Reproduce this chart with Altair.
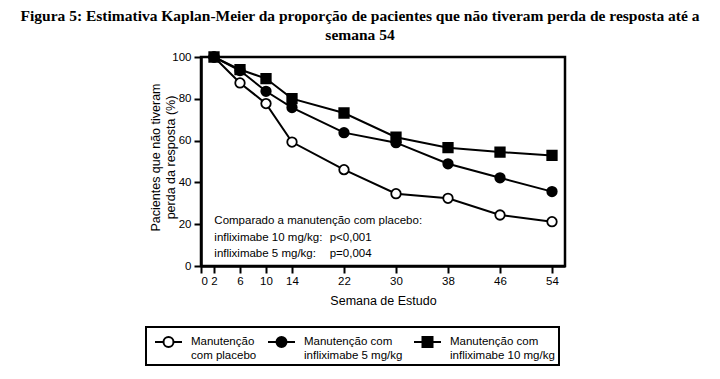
import altair as alt
import pandas as pd

# ---- data ----
semanas = [2, 6, 10, 14, 22, 30, 38, 46, 54]
placebo = [100, 87.6, 77.7, 59.3, 46.1, 34.6, 32.4, 24.4, 21.2]
inflix5 = [100, 93.5, 83.6, 75.8, 63.8, 59.0, 48.9, 42.2, 35.6]
inflix10 = [100, 94.0, 89.7, 80.1, 73.2, 61.6, 56.6, 54.5, 52.9]

grupos = [
    "Manutenção|com placebo",
    "Manutenção com|infliximabe 5 mg/kg",
    "Manutenção com|infliximabe 10 mg/kg",
]
x_ticks = [0, 2, 6, 10, 14, 22, 30, 38, 46, 54]
y_ticks = [0, 20, 40, 60, 80, 100]

annot_labels = ["Comparado a manutenção com placebo:", "infliximabe 10 mg/kg:", "infliximabe 5 mg/kg:"]
annot_p = ["", "p<0,001", "p=0,004"]
annot_y = [21.6, 13.4, 5.8]
annot_x = 2.05
annot_xp = 19.8

titulo = ["Figura 5: Estimativa Kaplan-Meier da proporção de pacientes que não tiveram perda de resposta até a",
          "semana 54"]

FONT = "'Liberation Sans', Arial, sans-serif"

rows = []
for g, vals in zip(grupos, [placebo, inflix5, inflix10]):
    for s, v in zip(semanas, vals):
        rows.append({"semana": s, "pct": v, "grupo": g})
df = pd.DataFrame(rows)

ann = pd.DataFrame({"lab": annot_labels, "p": annot_p, "y": annot_y,
                    "x": [annot_x] * 3, "xp": [annot_xp] * 3})

x_enc = alt.X("semana:Q", scale=alt.Scale(domain=[0, 56], nice=False),
              axis=alt.Axis(values=x_ticks, title="Semana de Estudo", titlePadding=8,
                            labelPadding=2))
y_enc = alt.Y("pct:Q", scale=alt.Scale(domain=[0, 100], nice=False),
              axis=alt.Axis(values=y_ticks, title=["Pacientes que não tiveram", "perda da resposta (%)"],
                            titleX=-46, titleY=100, titleAlign="center", titleBaseline="middle",
                            titleAngle=270, titleLineHeight=15, labelPadding=3))

base = alt.Chart(df)

lines = base.mark_line(color="black", strokeWidth=2).encode(x=x_enc, y=y_enc, detail="grupo:N")

points = base.mark_point(filled=True, stroke="black", strokeWidth=1.8, size=90, opacity=1).encode(
    x=x_enc, y=y_enc,
    shape=alt.Shape("grupo:N", scale=alt.Scale(domain=grupos, range=["circle", "circle", "square"]), legend=None),
    fill=alt.Fill("grupo:N", scale=alt.Scale(domain=grupos, range=["white", "black", "black"]), legend=None),
)

# legend symbols: a short line with the marker in its middle
e = 1.35
r = 0.5
circ = f"M-{e},0L-{r},0M{r},0L{e},0M{r},0A{r},{r},0,1,1,-{r},0A{r},{r},0,1,1,{r},0Z"
sq = f"M-{e},0L-{r},0M{r},0L{e},0M-{r},-{r}L{r},-{r}L{r},{r}L-{r},{r}Z"

leg = alt.Legend(orient="none", legendX=-55, legendY=270, direction="horizontal", title=None,
                 labelExpr="split(datum.label, '|')", symbolSize=400, symbolStrokeWidth=2,
                 symbolOffset=7.5, labelFont=FONT, labelFontSize=11.5, labelColor="black",
                 labelOffset=11.5, columnPadding=6, padding=4, strokeColor="black",
                 labelBaseline="middle")

legend_layer = base.transform_filter("false").mark_point(filled=True, strokeWidth=2, opacity=1).encode(
    x=x_enc, y=y_enc,
    shape=alt.Shape("grupo:N", scale=alt.Scale(domain=grupos, range=[circ, circ, sq]), legend=leg),
    fill=alt.Fill("grupo:N", scale=alt.Scale(domain=grupos, range=["white", "black", "black"]), legend=leg),
    stroke=alt.Stroke("grupo:N", scale=alt.Scale(domain=grupos, range=["black", "black", "black"]), legend=leg),
)

txt1 = alt.Chart(ann).mark_text(align="left", baseline="middle", font=FONT, fontSize=11.5, color="black").encode(
    x="x:Q", y="y:Q", text="lab:N")
txt2 = alt.Chart(ann).mark_text(align="left", baseline="middle", font=FONT, fontSize=11.5, color="black").encode(
    x="xp:Q", y="y:Q", text="p:N")

chart = alt.layer(lines, points, legend_layer, txt1, txt2).resolve_scale(
    shape="independent", fill="independent", stroke="independent"
).properties(
    width=364, height=209,
    autosize=alt.AutoSizeParams(type="none"),
    padding={"left": 193, "top": 49, "right": 147, "bottom": 105},
    title=alt.TitleParams(titulo, anchor="middle", dx=-23, font="Liberation Serif", fontSize=15.5,
                          fontWeight="bold", color="black", lineHeight=19, offset=5),
).configure_view(stroke="black", strokeWidth=2.5).configure_axis(
    domainColor="black", domainWidth=2.5, tickColor="black", tickWidth=2, tickSize=7, grid=False,
    labelFont=FONT, labelFontSize=11.5, labelColor="black", titleFont=FONT, titleFontSize=12.5,
    titleColor="black", titleFontWeight="normal",
).configure_legend(strokeWidth=2)

chart.save("out.html", embed_options={"renderer": "svg", "actions": False})
